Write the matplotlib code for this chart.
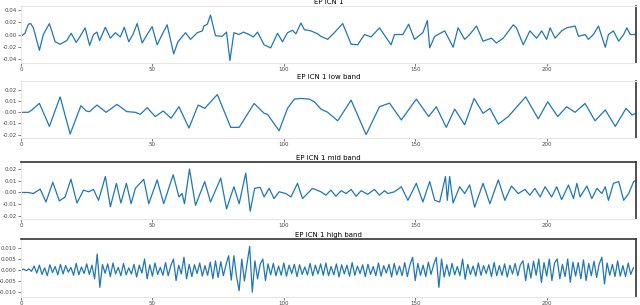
import matplotlib
matplotlib.use("Agg")
import matplotlib.pyplot as plt

# EP ICN 1 raw signal: (sample, value) at its turning points
raw_x = [0, 1.5, 2.8, 3.7, 4.7, 7.0, 8.5, 10.8, 13.0, 14.9, 17.4, 19.1, 21.0, 22.5, 24.4,
         26.1, 27.6, 28.9, 29.9, 32.1, 34.0, 35.9, 37.8, 39.3, 41.0, 42.6, 44.2, 46.1, 48.0,
         49.9, 51.8, 53.7, 55.6, 58.1, 59.7, 62.6, 64.5, 67.1, 69.0, 69.6, 70.9, 72.1, 74.0,
         76.6, 78.2, 79.5, 81.0, 83.0, 84.6, 86.8, 88.4, 90.0, 92.5, 95.0, 97.6, 99.5, 101.4,
         103.3, 104.6, 106.5, 107.8, 110.3, 112.9, 114.1, 116.7, 119.2, 122.4, 125.6, 128.1,
         130.7, 133.2, 136.4, 140.8, 142.1, 145.3, 147.5, 149.7, 152.9, 154.6, 155.5, 157.4,
         161.2, 164.4, 166.3, 168.8, 170.7, 173.3, 175.8, 179.0, 180.9, 183.5, 187.3, 188.5,
         191.1, 193.6, 196.2, 198.1, 200.0, 201.3, 203.2, 205.7, 207.6, 210.8, 212.1, 214.6,
         215.9, 217.8, 219.7, 222.3, 223.5, 225.4, 227.4, 229.3, 230.5, 231.8, 233.7]
raw_y = [-0.003, 0.002, 0.017, 0.018, 0.011, -0.026, 0.0, 0.018, -0.012, -0.016, -0.010,
         0.002, -0.013, -0.003, 0.011, -0.018, 0.0, 0.004, -0.010, 0.012, -0.006, 0.003,
         -0.004, 0.012, -0.012, 0.0, 0.018, -0.014, 0.0, 0.013, -0.017, 0.0, 0.016, -0.032,
         -0.012, 0.003, -0.008, 0.003, 0.006, 0.014, 0.017, 0.032, -0.002, -0.003, 0.004,
         -0.043, 0.003, 0.0, 0.004, 0.0, -0.004, 0.004, -0.017, -0.022, 0.002, -0.012, 0.003,
         0.007, 0.001, 0.019, 0.008, 0.006, 0.001, -0.003, -0.008, 0.003, 0.018, -0.016,
         -0.017, 0.0, -0.004, 0.011, -0.017, 0.0, 0.0, 0.017, -0.008, 0.003, 0.023, -0.022,
         -0.003, 0.006, -0.021, 0.011, -0.008, 0.0, 0.014, -0.011, -0.006, -0.014, -0.006,
         0.016, 0.011, -0.017, 0.006, -0.006, 0.006, -0.008, 0.011, -0.006, 0.006, 0.011,
         0.014, -0.003, 0.0, -0.008, 0.0, 0.014, -0.021, 0.0, 0.006, -0.011, 0.0, 0.011,
         0.0, 0.0]

# low band (units of 1e-3)
low_x = [0, 2.8, 4.1, 7.0, 10.8, 14.9, 18.7, 22.8, 24.8, 26.1, 28.9, 32.4, 36.5, 40.3, 43.5,
         45.4, 48.0, 51.1, 54.1, 57.1, 60.1, 63.9, 67.4, 69.9, 74.7, 79.8, 83.0, 88.7, 92.5,
         93.8, 98.2, 101.4, 104.0, 106.5, 109.7, 111.6, 114.1, 116.7, 120.5, 125.6, 131.3,
         136.4, 140.2, 144.7, 150.4, 155.1, 158.0, 161.8, 165.0, 168.8, 172.4, 175.8, 178.4,
         181.6, 185.4, 192.0, 196.8, 200.4, 204.2, 207.6, 210.8, 214.6, 218.4, 222.3, 226.1,
         230.2, 232.5, 233.7]
low_y = [0, 0, 2.0, 8.0, -12.6, 13.8, -19.4, 5.9, 1.2, 0.6, 6.5, 0, 7.1, 0.6, 0, -1.8, 4.1,
         -3.8, 1.2, -5.3, 5.0, -14.1, 6.5, 3.5, 15.9, -13.5, -13.5, 7.9, -0.9, -1.8, -16.5,
         3.5, 11.8, 12.4, 11.8, 9.4, 2.9, 0, -7.6, 10.9, -20.0, 5.0, 8.2, -6.8, 11.8, -3.8,
         5.0, -13.5, 2.9, -11.2, 12.4, -0.9, 3.5, -10.6, -3.8, 13.8, -5.9, 9.4, -3.8, 5.0, 0,
         7.9, -7.6, 2.1, -12.6, 3.5, -2.4, -1.2]

# mid band (units of 1e-3)
mid_x = [0, 2.8, 4.7, 7.3, 9.5, 12.1, 14.6, 16.8, 19.0, 21.3, 23.8, 25.7, 27.6, 29.5, 32.1,
         34.0, 36.3, 38.0, 40.1, 41.9, 43.5, 46.7, 48.6, 51.8, 54.3, 57.9, 60.1, 61.3, 62.2,
         64.1, 66.4, 69.9, 72.1, 76.0, 78.2, 81.0, 83.0, 85.5, 87.2, 88.9, 91.0, 92.5, 94.4,
         96.3, 98.2, 100.8, 102.7, 105.2, 107.1, 110.9, 114.1, 116.0, 117.9, 119.8, 121.8,
         123.7, 125.6, 127.5, 129.4, 131.9, 134.5, 136.4, 138.3, 139.6, 142.1, 144.7, 147.2,
         150.4, 152.9, 155.5, 157.4, 159.3, 161.5, 162.2, 163.1, 164.4, 166.9, 168.8, 170.7,
         172.6, 175.8, 178.4, 181.6, 184.1, 186.6, 189.2, 191.7, 193.6, 195.5, 197.5, 199.4,
         201.9, 203.8, 205.7, 208.3, 210.2, 211.5, 212.7, 215.3, 217.2, 219.1, 221.0, 222.3,
         223.5, 225.4, 227.4, 229.3, 231.2, 233.1, 233.9]
mid_y = [0, 0, -0.9, 2.9, -8.1, 8.7, -7.2, -3.8, 11.3, -9.0, 2.0, 0.6, 2.6, -6.7, 13.6,
         -12.2, 7.8, -9.0, 7.8, -9.6, 3.5, 11.3, -9.6, 10.7, -9.6, 15.1, -3.8, -0.9, -9.6,
         20.0, -11.0, 9.3, -8.1, 12.2, -14.0, 4.9, -9.6, 16.5, -16.0, 3.5, 4.4, -3.8, 3.5,
         -5.2, 0.6, -0.9, -3.8, 7.8, -5.2, 3.5, 0.6, -2.3, 2.0, -3.2, 1.5, -0.9, 2.6, -3.2,
         1.5, -1.5, 2.6, -2.3, 1.5, -0.9, 0.6, 4.9, -6.7, 7.8, -8.1, 9.3, -6.7, -8.1, 13.6,
         -6.7, 13.6, -9.0, 4.9, -0.9, 6.4, -12.5, 7.8, -9.6, 10.7, -6.7, 5.5, -0.9, 2.6,
         -2.3, 3.5, -3.8, 4.9, -3.8, 4.9, -6.1, 6.4, -5.2, 7.8, -3.8, 5.5, -5.2, 3.5, -0.9,
         4.9, -6.7, 7.8, 9.3, -6.7, -0.9, 9.3, 10.1]

# high band, one value per sample (units of 1e-3)
high_y = [0.0, 0.4, -0.3, 0.5, -0.6, 1.8, -1.4, 2.2, -2.0, 1.0,
          -2.6, 2.4, -1.2, 1.6, -2.2, 2.6, -1.8, 2.0, -1.0, 1.2,
          -2.4, 3.0, -2.2, 1.4, -1.6, 2.8, -2.0, 2.2, -4.0, 7.3,
          -7.9, 2.5, -1.5, 2.8, -3.0, 3.2, -1.8, 1.2, -2.6, 3.0,
          -2.2, 1.0, -1.8, 2.6, -3.2, 2.2, -1.4, 5.0, -4.0, 2.4,
          -2.8, 3.2, -2.0, 1.2, -2.4, 3.4, -2.6, 2.0, 5.0, -4.8,
          2.2, -1.8, 5.8, -4.0, 2.6, -3.0, 2.4, -1.6, 3.2, -2.8,
          2.0, -2.4, 3.6, -4.0, 4.2, -3.4, 3.8, -2.6, 2.4, 6.5,
          -4.6, 6.5, -3.0, -9.4, 5.0, -5.0, 3.0, 10.8, -10.1, 4.2,
          -4.0, 2.6, 5.0, -4.8, 2.8, -2.2, 3.0, -2.6, 1.8, -2.4,
          3.2, -2.8, 2.2, -1.6, 2.6, -3.0, 2.4, -2.0, 1.4, -2.2,
          3.0, -2.6, 2.2, -1.8, 2.8, -2.4, 3.2, -2.6, 1.6, -2.2,
          2.8, -3.2, 2.4, -1.8, 2.2, -2.8, 3.4, -2.4, 1.8, -1.6,
          2.4, -3.0, 2.6, -2.0, 1.6, -2.6, 3.2, -2.8, 2.0, -1.4,
          2.6, -3.2, 3.0, -2.2, 1.8, -2.6, 3.4, -3.0, 2.4, 5.8,
          -4.8, 3.0, -2.4, 2.2, -3.0, 3.6, -2.0, 2.4, 5.8, -7.9,
          5.0, -3.2, 2.4, -2.8, 3.0, -2.2, 1.6, -2.6, 5.0, -4.2,
          2.6, -2.0, 1.8, -2.8, 3.2, -2.4, 2.0, -1.6, 2.4, -3.0,
          3.4, -2.6, 2.0, -2.4, 2.8, -3.2, 2.2, -1.8, 3.0, -2.6,
          2.4, 4.2, -4.8, 3.0, -3.6, 4.0, -2.4, 5.0, -5.6, 3.4,
          -2.8, 5.0, -4.8, 3.2, 5.0, -4.0, 2.6, -3.0, 5.0, -5.6,
          3.6, -2.8, 3.4, -4.0, 4.6, -4.8, 3.0, -2.6, 4.0, -3.4,
          2.8, 5.8, -6.4, 3.2, -2.4, 2.6, -3.0, 4.2, -2.8, 2.0,
          -3.0, 3.2, -2.0, 1.0]

titles = ["EP ICN 1", "EP ICN 1 low band", "EP ICN 1 mid band", "EP ICN 1 high band"]
yticks = [[-0.04, -0.02, 0.00, 0.02, 0.04],
          [-0.02, -0.01, 0.00, 0.01, 0.02],
          [-0.02, -0.01, 0.00, 0.01, 0.02],
          [-0.010, -0.005, 0.000, 0.005, 0.010]]
ylims = [(-0.047, 0.047), (-0.023, 0.028), (-0.0226, 0.026), (-0.0123, 0.0141)]
yfmt = ["%.2f", "%.2f", "%.2f", "%.3f"]
xticks = [0, 50, 100, 150, 200]

series = [
    (raw_x, raw_y),
    (low_x, [v / 1000 for v in low_y]),
    (mid_x, [v / 1000 for v in mid_y]),
    (list(range(len(high_y))), [v / 1000 for v in high_y]),
]

fig = plt.figure(figsize=(6.4, 3.05), dpi=100)
# (bottom, height) of each panel in figure fractions
boxes = [(0.7934, 0.1869), (0.5475, 0.1869), (0.2820, 0.1869), (0.0262, 0.1900)]

for i, (bot, h) in enumerate(boxes):
    ax = fig.add_axes([0.0328, bot, 0.961, h])
    xs, ys = series[i]
    ax.plot(xs, ys, color="#1f77b4", linewidth=0.9)
    ax.set_xlim(0, 234)
    ax.set_ylim(*ylims[i])
    ax.set_xticks(xticks)
    ax.set_yticks(yticks[i])
    ax.set_yticklabels([yfmt[i] % t for t in yticks[i]])
    ax.tick_params(labelsize=4, colors="#444444", length=2, width=0.5, pad=1)
    ax.set_title(titles[i], fontsize=5, pad=1.5)
    for side in ["left", "bottom", "top"]:
        ax.spines[side].set_color("#e6e6e6")
        ax.spines[side].set_linewidth(0.8)
    ax.spines["right"].set_color("#333333")
    ax.spines["right"].set_linewidth(1.2)
    if i >= 2:
        ax.spines["top"].set_color("#333333")
        ax.spines["top"].set_linewidth(1.2)

fig.savefig("out.png", dpi=100)
